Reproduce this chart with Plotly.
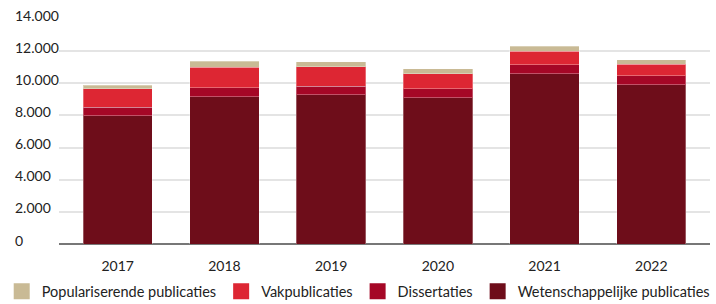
import plotly.graph_objects as go

years = ["2017", "2018", "2019", "2020", "2021", "2022"]
wetenschappelijk = [7990, 9155, 9280, 9090, 10590, 9900]
dissertaties = [517, 560, 536, 560, 561, 561]
vakpublicaties = [1146, 1283, 1208, 953, 828, 722]
populariserend = [224, 374, 330, 293, 312, 274]

y_ticks = [0, 2000, 4000, 6000, 8000, 10000, 12000, 14000]
y_tick_labels = ["0", "2.000", "4.000", "6.000", "8.000", "10.000", "12.000", "14.000"]

series = [
    ("Wetenschappelijke publicaties", wetenschappelijk, "#6e0d1a"),
    ("Dissertaties", dissertaties, "#a50726"),
    ("Vakpublicaties", vakpublicaties, "#dd2633"),
    ("Populariserende publicaties", populariserend, "#c9ba95"),
]

FONT = "Lato, 'Source Sans Pro', sans-serif"

fig = go.Figure()
for name, vals, col in series:
    fig.add_trace(go.Bar(
        x=years, y=vals, name=name, showlegend=False,
        marker=dict(color=col, line=dict(color="rgba(255,255,255,0.3)", width=1)),
    ))
# legend entries (larger square swatches)
for name, vals, col in reversed(series):
    fig.add_trace(go.Scatter(
        x=[None], y=[None], mode="markers", name=name,
        marker=dict(symbol="square", size=17, color=col),
    ))

# left-aligned y tick labels
for v, t in zip(y_ticks, y_tick_labels):
    fig.add_annotation(
        x=0, xref="paper", xshift=-46, xanchor="left",
        y=v, yref="y", yshift=4, yanchor="middle",
        text=t, showarrow=False, font=dict(size=14, color="#222222"),
    )

fig.update_layout(
    width=716, height=304, autosize=False,
    margin=dict(l=59, r=6, t=19, b=60, autoexpand=False),
    barmode="stack", bargap=0.35,
    plot_bgcolor="white", paper_bgcolor="white",
    font=dict(family=FONT, size=14, color="#222222"),
    legend=dict(
        orientation="h", x=-0.088, xanchor="left", y=-0.21, yanchor="middle",
        font=dict(size=14.5, color="#222222"), traceorder="normal",
        itemwidth=30, tracegroupgap=0,
    ),
    xaxis=dict(
        range=[-0.55, 5.55], showgrid=False, ticks="",
        tickfont=dict(size=14), ticklabelstandoff=12,
        showline=False,
    ),
    yaxis=dict(
        range=[0, 14000], tickvals=y_ticks, showticklabels=False,
        showgrid=True, gridcolor="#e4e4e4", gridwidth=1.5,
        zeroline=True, zerolinecolor="#777777", zerolinewidth=2,
    ),
)

fig.write_html(
    "out.html",
    config={"displayModeBar": False},
    post_script="document.body.style.margin='0';",
)
